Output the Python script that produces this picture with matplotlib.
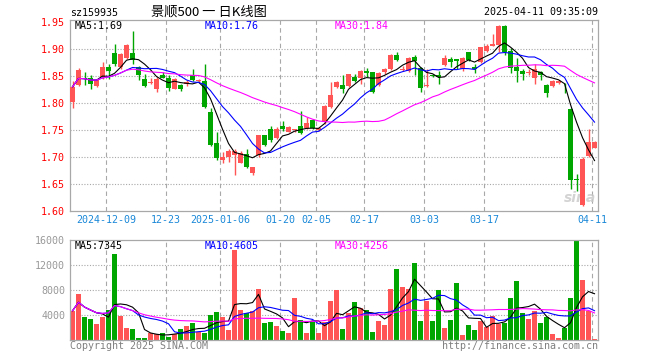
import numpy as np
import pandas as pd
import matplotlib
matplotlib.use('Agg')
import matplotlib.pyplot as plt

# Daily K-line of sz159935 (2024-11-29 .. 2025-04-11)
opens = [1.802, 1.834, 1.846, 1.847, 1.832, 1.848, 1.866, 1.893, 1.867, 1.883,
         1.893, 1.866, 1.845, 1.837, 1.825, 1.852, 1.846, 1.826, 1.834, 1.835,
         1.852, 1.840, 1.840, 1.783, 1.725, 1.694, 1.700, 1.703, 1.689, 1.705,
         1.670, 1.703, 1.740, 1.752, 1.735, 1.758, 1.747, 1.750, 1.757, 1.754,
         1.769, 1.750, 1.765, 1.793, 1.829, 1.834, 1.831, 1.849, 1.846, 1.860,
         1.857, 1.833, 1.857, 1.863, 1.889, 1.861, 1.860, 1.886, 1.865, 1.831,
         1.851, 1.851, 1.870, 1.882, 1.882, 1.863, 1.894, 1.866, 1.875, 1.897,
         1.906, 1.907, 1.943, 1.897, 1.866, 1.860, 1.855, 1.846, 1.857, 1.834,
         1.832, 1.837, 1.828, 1.789, 1.658, 1.611, 1.702, 1.717]
highs = [1.841, 1.864, 1.857, 1.851, 1.845, 1.876, 1.873, 1.909, 1.893, 1.909,
         1.934, 1.869, 1.854, 1.846, 1.848, 1.857, 1.851, 1.846, 1.835, 1.842,
         1.863, 1.845, 1.873, 1.791, 1.746, 1.709, 1.714, 1.714, 1.712, 1.715,
         1.682, 1.741, 1.741, 1.757, 1.755, 1.766, 1.757, 1.752, 1.785, 1.774,
         1.771, 1.755, 1.797, 1.839, 1.840, 1.851, 1.854, 1.854, 1.861, 1.864,
         1.858, 1.857, 1.864, 1.891, 1.895, 1.869, 1.885, 1.889, 1.866, 1.863,
         1.854, 1.860, 1.888, 1.885, 1.882, 1.885, 1.895, 1.872, 1.904, 1.909,
         1.928, 1.944, 1.944, 1.901, 1.883, 1.863, 1.863, 1.872, 1.860, 1.836,
         1.842, 1.842, 1.837, 1.790, 1.669, 1.700, 1.751, 1.729]
lows = [1.790, 1.832, 1.833, 1.826, 1.829, 1.845, 1.845, 1.869, 1.863, 1.881,
        1.872, 1.842, 1.829, 1.835, 1.820, 1.846, 1.823, 1.825, 1.823, 1.832,
        1.840, 1.838, 1.791, 1.721, 1.695, 1.688, 1.691, 1.667, 1.688, 1.680,
        1.666, 1.700, 1.721, 1.728, 1.734, 1.749, 1.746, 1.746, 1.743, 1.752,
        1.752, 1.748, 1.762, 1.791, 1.828, 1.819, 1.830, 1.838, 1.835, 1.848,
        1.819, 1.832, 1.854, 1.862, 1.877, 1.860, 1.858, 1.851, 1.821, 1.829,
        1.849, 1.835, 1.869, 1.866, 1.863, 1.860, 1.878, 1.855, 1.874, 1.895,
        1.905, 1.894, 1.889, 1.856, 1.838, 1.843, 1.852, 1.836, 1.843, 1.811,
        1.830, 1.835, 1.819, 1.641, 1.637, 1.609, 1.700, 1.716]
closes = [1.830, 1.861, 1.844, 1.835, 1.842, 1.867, 1.859, 1.872, 1.890, 1.908,
          1.880, 1.851, 1.831, 1.838, 1.845, 1.847, 1.827, 1.845, 1.825, 1.838,
          1.842, 1.843, 1.793, 1.723, 1.698, 1.700, 1.711, 1.711, 1.708, 1.682,
          1.681, 1.740, 1.722, 1.731, 1.751, 1.751, 1.755, 1.751, 1.745, 1.763,
          1.753, 1.753, 1.795, 1.815, 1.838, 1.826, 1.853, 1.840, 1.860, 1.856,
          1.821, 1.856, 1.863, 1.889, 1.880, 1.862, 1.883, 1.878, 1.827, 1.833,
          1.850, 1.849, 1.883, 1.875, 1.878, 1.883, 1.880, 1.863, 1.903, 1.906,
          1.909, 1.943, 1.895, 1.864, 1.859, 1.853, 1.857, 1.863, 1.852, 1.819,
          1.840, 1.841, 1.827, 1.658, 1.657, 1.696, 1.728, 1.728]
volumes = [4680, 7400, 3720, 3400, 2600, 3720, 4840, 13780, 3880, 1970,
           1810, 370, 370, 1120, 960, 1170, 530, 960, 1810, 2290,
           2770, 1330, 1170, 4040, 4520, 3720, 1650, 14420, 4840, 4360,
           4680, 8190, 2770, 2930, 2290, 1490, 1170, 6760, 3250, 1170,
           2930, 1170, 2930, 6280, 8030, 1810, 4310, 6120, 5110, 4840,
           1330, 3090, 2450, 8190, 11380, 8510, 8190, 12340, 3090, 6280,
           3090, 8030, 1970, 3250, 9150, 850, 2450, 1650, 3090, 2130,
           3880, 2610, 2770, 6760, 9470, 4360, 3400, 4680, 2770, 3720,
           1010, 370, 1970, 6760, 15850, 9630, 4580, 210]

date_pos = [6, 16, 25, 35, 41, 49, 59, 69, 87]
date_labels = ['2024-12-09', '12-23', '2025-01-06', '01-20', '02-05',
               '02-17', '03-03', '03-17', '04-11']
price_ticks = [1.60, 1.65, 1.70, 1.75, 1.80, 1.85, 1.90, 1.95]
vol_ticks = [4000, 8000, 12000, 16000]
ma_windows = [5, 10, 30]
price_ma_text = ['1.69', '1.76', '1.84']
vol_ma_text = ['7345', '4605', '4256']

UP = '#FF5555'
DOWN = '#00A600'
GRID = '#A8A8A8'
MA_COLORS = ['#000000', '#0000FF', '#FF00FF']
MONO = 'DejaVu Sans Mono'
FS = 7.2

W, H = 660, 360


def style_axes(ax):
    for s in ax.spines.values():
        s.set_color(GRID)
        s.set_linewidth(0.9)
    ax.tick_params(length=0)
    for d in date_pos:
        ax.axvline(d - 0.4, color=GRID, lw=0.8, ls=(0, (4, 3)), zorder=0)


def draw_candles(ax, o, h, l, c):
    x = np.arange(len(c))
    up = c >= o
    colors = np.where(up, UP, DOWN)
    ax.vlines(x, l, h, colors=colors, lw=1.0, zorder=2)
    bottom = np.minimum(o, c)
    height = np.maximum(np.abs(c - o), 0.0016)
    ax.bar(x, height, bottom=bottom, width=0.8, color=colors, lw=0, zorder=3)


df = pd.DataFrame({'open': opens, 'high': highs, 'low': lows,
                   'close': closes, 'volume': volumes})
x = np.arange(len(df))

fig = plt.figure(figsize=(W / 100, H / 100), dpi=100)
fig.patch.set_facecolor('white')

# price panel
ax = fig.add_axes([70 / W, 1 - 211 / H, 528 / W, 191 / H])
style_axes(ax)
draw_candles(ax, df['open'].values, df['high'].values,
             df['low'].values, df['close'].values)
for n, col in zip(ma_windows, MA_COLORS):
    ax.plot(x, df['close'].rolling(n, min_periods=1).mean(), color=col, lw=0.8, zorder=4)
for t in price_ticks[1:-1]:
    ax.axhline(t, color=GRID, lw=0.8, ls=(0, (1, 1.5)), zorder=0)
ax.set_xlim(-0.42, 87.58)
ax.set_ylim(1.60, 1.9537)
ax.set_yticks(price_ticks)
ax.set_yticklabels(['%.2f' % t for t in price_ticks], color='#FF0000',
                   fontfamily=MONO, fontsize=FS)
ax.tick_params(axis='y', pad=3.5)
ax.set_xticks([d - 0.4 for d in date_pos])
ax.set_xticklabels(date_labels, color='#1A88D8', fontfamily=MONO, fontsize=FS)
ax.tick_params(axis='x', pad=3)

# MA legend texts
for n, col, val, px in zip(ma_windows, MA_COLORS, price_ma_text, [75, 205, 335]):
    fig.text(px / W, 1 - 26 / H, 'MA%d:%s' % (n, val), color=col,
             fontfamily=MONO, fontsize=FS, va='center')

# sina watermark
ax.text(0.965, 0.03, 'sina', transform=ax.transAxes, ha='center', va='bottom',
        color='#C8C8C8', fontsize=10, fontweight='bold', style='italic', alpha=0.8, zorder=1)

# volume panel
axv = fig.add_axes([70 / W, 1 - 340 / H, 528 / W, 100 / H])
style_axes(axv)
vcol = np.where(df['close'] >= df['open'], UP, DOWN)
axv.bar(x, df['volume'], width=0.8, color=vcol, lw=0, zorder=2)
for n, col in zip(ma_windows, MA_COLORS):
    axv.plot(x, df['volume'].rolling(n, min_periods=1).mean(), color=col, lw=0.8, zorder=4)
for t in vol_ticks[:-1]:
    axv.axhline(t, color=GRID, lw=0.8, ls=(0, (1, 1.5)), zorder=0)
axv.set_xlim(-0.42, 87.58)
axv.set_ylim(0, 16000)
axv.set_xticks([])
axv.set_yticks(vol_ticks)
axv.set_yticklabels([str(t) for t in vol_ticks], color='#999999',
                    fontfamily=MONO, fontsize=FS)
axv.tick_params(axis='y', pad=3.5)
for n, col, val, px in zip(ma_windows, MA_COLORS, vol_ma_text, [75, 205, 335]):
    fig.text(px / W, 1 - 246 / H, 'MA%d:%s' % (n, val), color=col,
             fontfamily=MONO, fontsize=FS, va='center')

# header / footer
fig.text(70 / W, 1 - 13 / H, 'sz159935', fontfamily=MONO, fontsize=FS, va='center')
fig.text(209 / W, 1 - 12 / H, '景顺500 一 日K线图', ha='center', va='center',
         fontfamily=['Noto Sans CJK SC', 'DejaVu Sans'], fontsize=9.5)
fig.text(598 / W, 1 - 12 / H, '2025-04-11 09:35:09', ha='right', va='center',
         fontfamily=MONO, fontsize=FS)
fig.text(70 / W, 1 - 346 / H, 'Copyright 2025 SINA.COM', color='#808080',
         fontfamily=MONO, fontsize=FS, va='center')
fig.text(598 / W, 1 - 346 / H, 'http://finance.sina.com.cn', color='#808080',
         ha='right', fontfamily=MONO, fontsize=FS, va='center')

fig.savefig('out.png', dpi=100)
plt.close(fig)
